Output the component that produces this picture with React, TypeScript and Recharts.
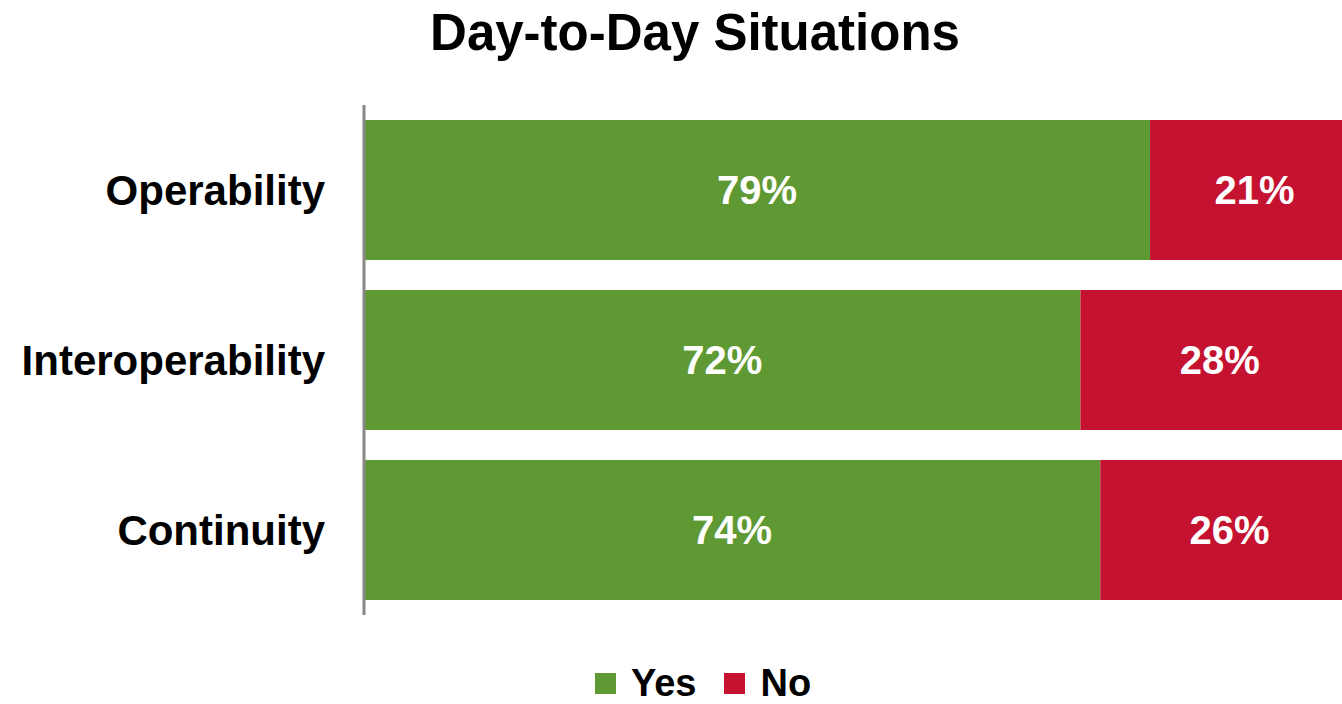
import { BarChart, Bar, XAxis, YAxis, Legend, LabelList } from 'recharts';

const categories = ['Operability', 'Interoperability', 'Continuity'];
const yesValues = [79, 72, 74];
const noValues = [21, 28, 26];

const GREEN = '#5f9934';
const RED = '#c41230';
const FONT = '"Liberation Sans", Arial, sans-serif';

const data = categories.map((name, i) => ({
  name,
  Yes: yesValues[i],
  No: noValues[i],
}));

// legend drawn by hand so the squares and spacing match
function LegendBox() {
  const items = [
    { label: 'Yes', color: GREEN },
    { label: 'No', color: RED },
  ];
  return (
    <div
      style={{
        display: 'flex',
        justifyContent: 'center',
        alignItems: 'center',
        fontFamily: FONT,
        fontWeight: 'bold',
        fontSize: 38,
        lineHeight: '34px',
        height: 34,
        color: '#000',
      }}
    >
      {items.map((it) => (
        <div
          key={it.label}
          style={{ display: 'flex', alignItems: 'center', margin: '0 14px' }}
        >
          <span
            style={{
              display: 'inline-block',
              width: 21,
              height: 21,
              background: it.color,
              marginRight: 15,
            }}
          />
          <span>{it.label}</span>
        </div>
      ))}
    </div>
  );
}

export default function App() {
  return (
    <div
      style={{
        position: 'absolute',
        left: 0,
        top: 0,
        width: 1342,
        height: 704,
        overflow: 'hidden',
        background: '#fff',
      }}
    >
      <div
        style={{
          position: 'absolute',
          left: 0,
          width: 1390,
          top: 3,
          textAlign: 'center',
          fontFamily: FONT,
          fontWeight: 'bold',
          fontSize: 51,
          color: '#000',
        }}
      >
        Day-to-Day Situations
      </div>
      <BarChart
        width={1360}
        height={704}
        data={data}
        layout='vertical'
        margin={{ top: 105, right: 1, bottom: 55, left: 0 }}
        barSize={140}
      >
        <XAxis type='number' domain={[0, 100]} hide />
        <YAxis
          type='category'
          dataKey='name'
          width={364}
          axisLine={{ stroke: '#888', strokeWidth: 3 }}
          tickLine={false}
          tickSize={0}
          tickMargin={39}
          tick={{
            fill: '#000',
            fontSize: 42,
            fontWeight: 'bold',
            fontFamily: FONT,
          }}
        />
        <Legend
          content={<LegendBox />}
          wrapperStyle={{ left: 0, width: 1406, top: 666 }}
        />
        <Bar dataKey='Yes' stackId='a' fill={GREEN} isAnimationActive={false}>
          <LabelList
            dataKey='Yes'
            position='center'
            formatter={(v) => `${v}%`}
            fill='#fff'
            fontSize={40}
            fontWeight='bold'
            fontFamily={FONT}
          />
        </Bar>
        <Bar dataKey='No' stackId='a' fill={RED} isAnimationActive={false}>
          <LabelList
            dataKey='No'
            position='center'
            formatter={(v) => `${v}%`}
            fill='#fff'
            fontSize={40}
            fontWeight='bold'
            fontFamily={FONT}
          />
        </Bar>
      </BarChart>
    </div>
  );
}
